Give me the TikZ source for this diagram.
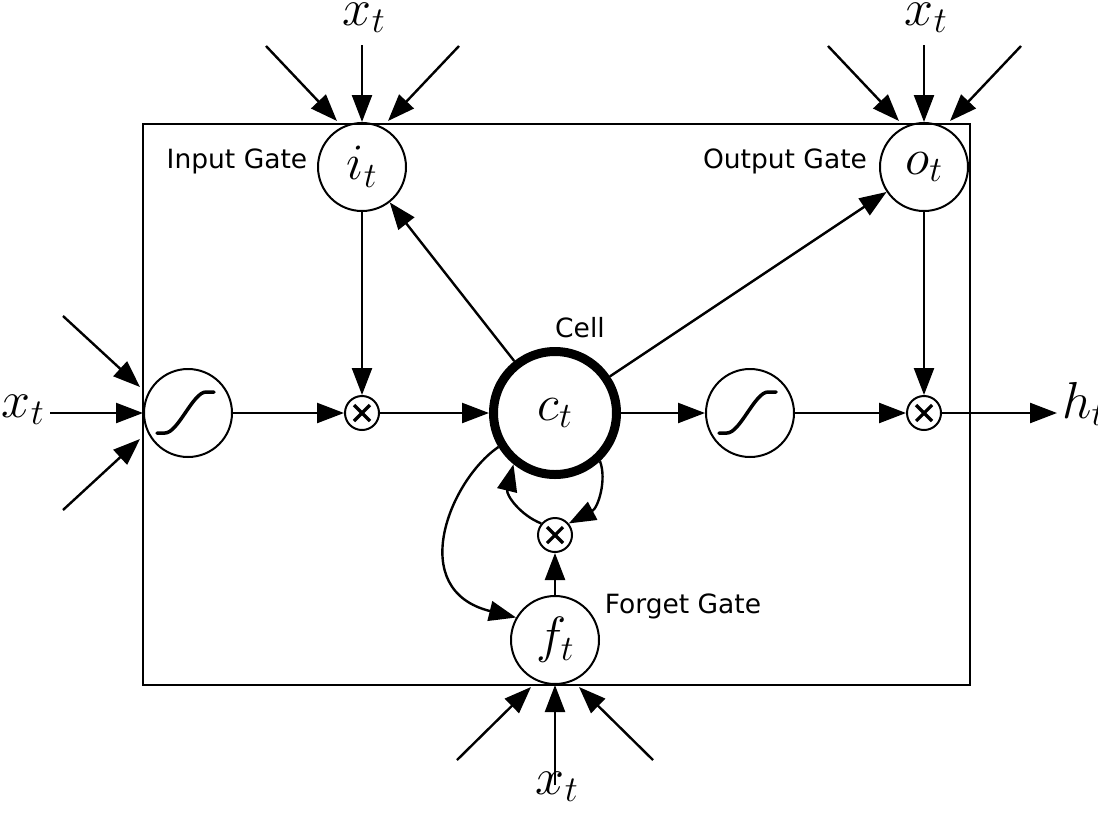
\RequirePackage{fix-cm}
\documentclass[tikz,border=0pt]{standalone}
\usepackage{fontspec}
\setsansfont{DejaVu Sans}
\usetikzlibrary{arrows.meta}
\begin{document}
\begin{tikzpicture}[x=1pt,y=-1pt,
  arr/.style={line width=2.4pt,-{Triangle[length=27pt,width=20pt]}},
  gate/.style={circle,draw,line width=2pt,minimum size=88pt,inner sep=0pt,font=\fontsize{51}{58}\selectfont},
  cell/.style={circle,draw,line width=9pt,minimum size=123pt,inner sep=0pt,font=\fontsize{51}{58}\selectfont},
  mult/.style={circle,draw,line width=2pt,minimum size=34pt,inner sep=0pt},
  lab/.style={font=\sffamily\fontsize{26.5}{30}\selectfont,inner sep=0pt},
  mathlab/.style={font=\fontsize{52}{60}\selectfont,inner sep=0pt,anchor=base},
  sigm/.style={line width=3.5pt,line cap=round},
  times/.style={line width=3.2pt}]
\useasboundingbox (0,0) rectangle (1098,812);
\node[draw,line width=2.4pt,minimum width=827pt,minimum height=561pt,inner sep=0pt,anchor=north west] (box) at (142,123) {};
% nodes
\node[gate] (it) at (362,167) {$i_t$};
\node[gate] (ot) at (924,167) {$o_t$};
\node[gate] (sig1) at (188,413) {};
\node[mult] (m1) at (362,413) {};
\node[cell] (ct) at (555,413) {$c_t$};
\node[gate] (sig2) at (750,413) {};
\node[mult] (m2) at (924,413) {};
\node[mult] (m3) at (555,535) {};
\node[gate] (ft) at (555,640) {$f_t$};
% sigmoid glyphs
\foreach \s in {sig1,sig2}{
  \draw[sigm] ([shift={(-31pt,-20pt)}]\s.center) -- ++(8pt,0) .. controls +(13pt,0) and +(-13pt,0) .. ++(41pt,41pt) -- ++(8pt,0);
}
% multiply glyphs
\foreach \m in {m1,m2,m3}{
  \draw[times] ([shift={(-8pt,-8pt)}]\m.center) -- ([shift={(8pt,8pt)}]\m.center);
  \draw[times] ([shift={(-8pt,8pt)}]\m.center) -- ([shift={(8pt,-8pt)}]\m.center);
}
% labels
\node[lab] (li) at (237,161) {Input Gate};
\node[lab] (lo) at (785,161) {Output Gate};
\node[lab] (lc) at (580,328) {Cell};
\node[lab] (lf) at (683,606) {Forget Gate};
% external inputs
\node[mathlab] (xit) at (364,25) {$x_t$};
\node[mathlab] (xot) at (926,25) {$x_t$};
\node[mathlab] (xl) at (23,417) {$x_t$};
\node[mathlab] (xb) at (557,794) {$x_t$};
\coordinate (hend) at (1057,413);
\node[mathlab,anchor=base west] (ht) at (1062,418) {$h_t$};
% input gate inputs
\coordinate (ia1) at (266,46); \coordinate (ia2) at (337,121);
\coordinate (ib1) at (459,46); \coordinate (ib2) at (388,121);
\draw[arr] (ia1) -- (ia2);
\draw[arr] (ib1) -- (ib2);
\draw[arr] (it |- 0,45) -- (it.north);
% output gate inputs
\coordinate (oa1) at (828,46); \coordinate (oa2) at (899,121);
\coordinate (ob1) at (1021,46); \coordinate (ob2) at (950,121);
\draw[arr] (oa1) -- (oa2);
\draw[arr] (ob1) -- (ob2);
\draw[arr] (ot |- 0,45) -- (ot.north);
% left inputs
\coordinate (la1) at (63,316); \coordinate (la2) at (140,387);
\coordinate (lb1) at (63,510); \coordinate (lb2) at (140,439);
\coordinate (lc1) at (50,413);
\draw[arr] (la1) -- (la2);
\draw[arr] (lb1) -- (lb2);
\draw[arr] (lc1) -- (sig1.west);
% bottom inputs
\coordinate (ba1) at (457,760); \coordinate (ba2) at (531,687);
\coordinate (bb1) at (653,760); \coordinate (bb2) at (579,687);
\draw[arr] (ba1) -- (ba2);
\draw[arr] (bb1) -- (bb2);
\draw[arr] (ft |- 0,785) -- (ft.south);
% main flow
\draw[arr] (sig1) -- (m1);
\draw[arr] (it) -- (m1);
\draw[arr] (m1) -- (ct);
\draw[arr] (ct) -- (it);
\draw[arr] (ct) -- (ot);
\draw[arr] (ct) -- (sig2);
\draw[arr] (sig2) -- (m2);
\draw[arr] (ot) -- (m2);
\draw[arr] (m2) -- (hend);
% forget loop
\draw[arr] (ft) -- (m3);
\draw[arr] (ct.-47) .. controls (607,480) and (598,508) .. (m3.40);
\draw[arr] (m3.140) .. controls (520,515) and (506,495) .. (ct.-129);
\draw[arr] (ct.-149) .. controls (450,480) and (405,590) .. (ft.150);
\end{tikzpicture}
\end{document}
